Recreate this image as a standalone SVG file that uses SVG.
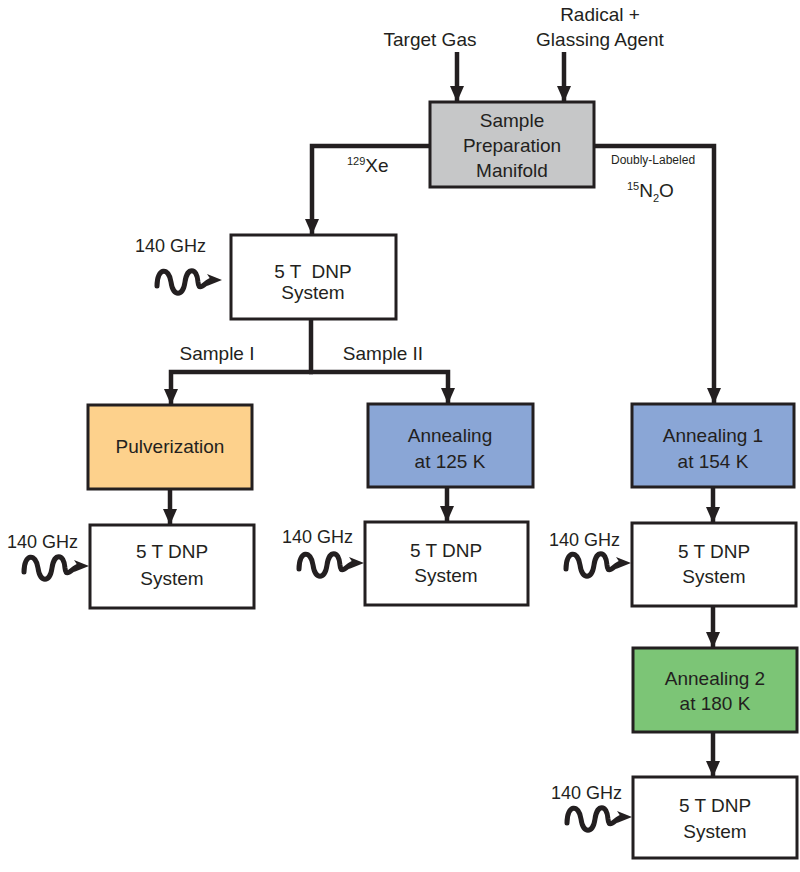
<svg xmlns="http://www.w3.org/2000/svg" width="800" height="872" viewBox="0 0 800 872">
<style>
  text { font-family: "Liberation Sans", Arial, sans-serif; font-size: 19px; fill: #231f20; }
  .c { text-anchor: middle; }
  .box { stroke: #231f20; stroke-width: 3; }
  .white { fill: #ffffff; }
  .gray { fill: #c6c7c8; }
  .orange { fill: #fdd18c; }
  .blue { fill: #8aa6d6; }
  .green { fill: #7cc576; }
  .conn { fill: none; stroke: #231f20; stroke-width: 4.5; }
  .wave { fill: none; stroke: #231f20; stroke-width: 5; stroke-linecap: round; }
  .small { font-size: 12px; }
  .sup { font-size: 11px; }
  .ghz { font-size: 18px; }
</style>
<defs>
  <marker id="ah" markerUnits="userSpaceOnUse" viewBox="0 0 16 14" markerWidth="16" markerHeight="14" refX="15" refY="7" orient="auto">
    <path d="M0,0 L16,7 L0,14 z" fill="#231f20"/>
  </marker>
  <g id="mw">
    <path class="wave" d="M-65,6 C-65,-13 -53,-13 -51,2 C-49,17 -39,17 -37,2 C-35,-13 -25,-13 -24,2 C-23,13 -17,2 -10,0"/>
    <path d="M0,0 L-15,-6 L-11,0 L-15,6 z" fill="#231f20"/>
  </g>
</defs>

<g id="connectors">
  <path class="conn" d="M457,52 V101" marker-end="url(#ah)"/>
  <path class="conn" d="M564,52 V101" marker-end="url(#ah)"/>
  <path class="conn" d="M430,146 H312 V234" marker-end="url(#ah)"/>
  <path class="conn" d="M594,146 H714 V403" marker-end="url(#ah)"/>
  <path class="conn" d="M311,319 V372"/>
  <path class="conn" d="M313,372 H171 V404" marker-end="url(#ah)"/>
  <path class="conn" d="M309,372 H448 V403" marker-end="url(#ah)"/>
  <path class="conn" d="M170,489 V524" marker-end="url(#ah)"/>
  <path class="conn" d="M447,487 V521" marker-end="url(#ah)"/>
  <path class="conn" d="M713,487 V522" marker-end="url(#ah)"/>
  <path class="conn" d="M713,606 V647" marker-end="url(#ah)"/>
  <path class="conn" d="M713,732 V776" marker-end="url(#ah)"/>
</g>

<g id="inputs">
  <text class="c" x="430" y="46">Target Gas</text>
  <text class="c" x="600" y="21">Radical +</text>
  <text class="c" x="600" y="46">Glassing Agent</text>
</g>

<g id="labels">
  <text x="347" y="172"><tspan class="sup" dy="-7">129</tspan><tspan dy="7">Xe</tspan></text>
  <text class="small" x="611" y="164">Doubly-Labeled</text>
  <text x="627" y="197"><tspan class="sup" dy="-7">15</tspan><tspan dy="7">N</tspan><tspan class="sup" dy="5">2</tspan><tspan dy="-5">O</tspan></text>
  <text class="c" x="217" y="360">Sample I</text>
  <text class="c" x="383" y="360">Sample II</text>
</g>

<g id="manifold">
  <rect class="box gray" x="430" y="102" width="164" height="85"/>
  <text class="c" x="512" y="127">Sample</text>
  <text class="c" x="512" y="152">Preparation</text>
  <text class="c" x="512" y="177">Manifold</text>
</g>

<g id="dnp1">
  <rect class="box white" x="231" y="235" width="165" height="84"/>
  <text class="c" x="313" y="278" xml:space="preserve">5 T  DNP</text>
  <text class="c" x="313" y="299">System</text>
  <text class="ghz" x="135" y="252">140 GHz</text>
  <use href="#mw" x="222" y="280"/>
</g>

<g id="pulverization">
  <rect class="box orange" x="88" y="405" width="164" height="84"/>
  <text class="c" x="170" y="453">Pulverization</text>
</g>

<g id="dnp2">
  <rect class="box white" x="90" y="525" width="164" height="83"/>
  <text class="c" x="172" y="558">5 T DNP</text>
  <text class="c" x="172" y="585">System</text>
  <text class="ghz" x="7" y="548">140 GHz</text>
  <use href="#mw" x="89" y="566"/>
</g>

<g id="anneal125">
  <rect class="box blue" x="368" y="404" width="165" height="83"/>
  <text class="c" x="450" y="442">Annealing</text>
  <text class="c" x="450" y="468">at 125 K</text>
</g>

<g id="dnp3">
  <rect class="box white" x="365" y="522" width="163" height="83"/>
  <text class="c" x="446" y="557">5 T DNP</text>
  <text class="c" x="446" y="582">System</text>
  <text class="ghz" x="282" y="543">140 GHz</text>
  <use href="#mw" x="364" y="563"/>
</g>

<g id="anneal1">
  <rect class="box blue" x="632" y="404" width="162" height="83"/>
  <text class="c" x="713" y="442">Annealing 1</text>
  <text class="c" x="713" y="468">at 154 K</text>
</g>

<g id="dnp4">
  <rect class="box white" x="632" y="523" width="164" height="83"/>
  <text class="c" x="714" y="558">5 T DNP</text>
  <text class="c" x="714" y="583">System</text>
  <text class="ghz" x="549" y="546">140 GHz</text>
  <use href="#mw" x="631" y="563"/>
</g>

<g id="anneal2">
  <rect class="box green" x="633" y="648" width="164" height="84"/>
  <text class="c" x="715" y="685">Annealing 2</text>
  <text class="c" x="715" y="710">at 180 K</text>
</g>

<g id="dnp5">
  <rect class="box white" x="633" y="777" width="164" height="81"/>
  <text class="c" x="715" y="812">5 T DNP</text>
  <text class="c" x="715" y="838">System</text>
  <text class="ghz" x="551" y="799">140 GHz</text>
  <use href="#mw" x="632" y="817"/>
</g>
</svg>
